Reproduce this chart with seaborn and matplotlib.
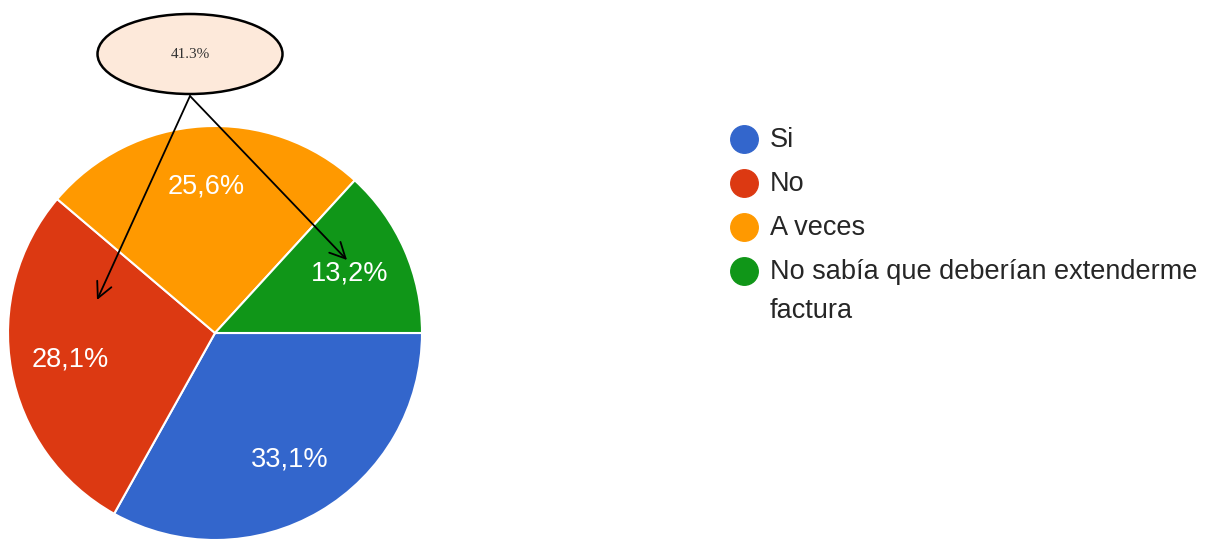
import matplotlib
matplotlib.use("Agg")
import matplotlib.pyplot as plt
import seaborn as sns
from matplotlib.patches import Ellipse

# data
labels = ["Si", "No", "A veces", "No sabía que deberían extenderme\nfactura"]
values = [33.1, 28.1, 25.6, 13.2]
colors = ["#3366cc", "#dc3912", "#ff9900", "#109618"]
callout_text = "41.3%"

sns.set_theme(style="white")
plt.rcParams['font.family'] = ['Liberation Sans', 'DejaVu Sans']
palette = sns.color_palette(colors)

fig = plt.figure(figsize=(12.23, 5.39), dpi=100)
ax = fig.add_axes([0, 0, 1, 1])

# pie, clockwise from 3 o'clock like google forms
wedges, texts, autotexts = ax.pie(
    values, colors=palette, startangle=0, counterclock=False,
    center=(215, 206), radius=207, frame=True,
    autopct=lambda p: f"{p:.1f}%".replace('.', ','), pctdistance=0.71,
    wedgeprops=dict(edgecolor='white', linewidth=1.5),
    textprops=dict(color='white', fontsize=19.5))
ax.set_xlim(0, 1223)
ax.set_ylim(0, 539)
ax.set_aspect('equal')
ax.axis('off')

# legend drawn by hand so the dot sits on the first line of wrapped labels
for i, (lab, c) in enumerate(zip(labels, palette)):
    y = 400 - i * 44
    ax.scatter([744], [y], s=28 ** 2 * 0.5, color=c, zorder=3)
    ax.text(770, y + 12, lab, ha='left', va='top', fontsize=19.5,
            color='#262626', linespacing=1.65)

# callout bubble with arrows
ell = Ellipse((190, 485), 185, 80, facecolor='#fde9da', edgecolor='black', linewidth=1.8)
ax.add_patch(ell)
ax.text(190, 485, callout_text, ha='center', va='center', fontsize=11,
        family=['Liberation Serif', 'DejaVu Serif'], color='#333333')
for tx, ty in [(97, 239), (347, 279)]:
    ax.annotate('', xy=(tx, ty), xytext=(190, 443),
                arrowprops=dict(arrowstyle='->', color='black', lw=1.3,
                                mutation_scale=28, shrinkA=0, shrinkB=0))

fig.savefig("out.png", dpi=100)
